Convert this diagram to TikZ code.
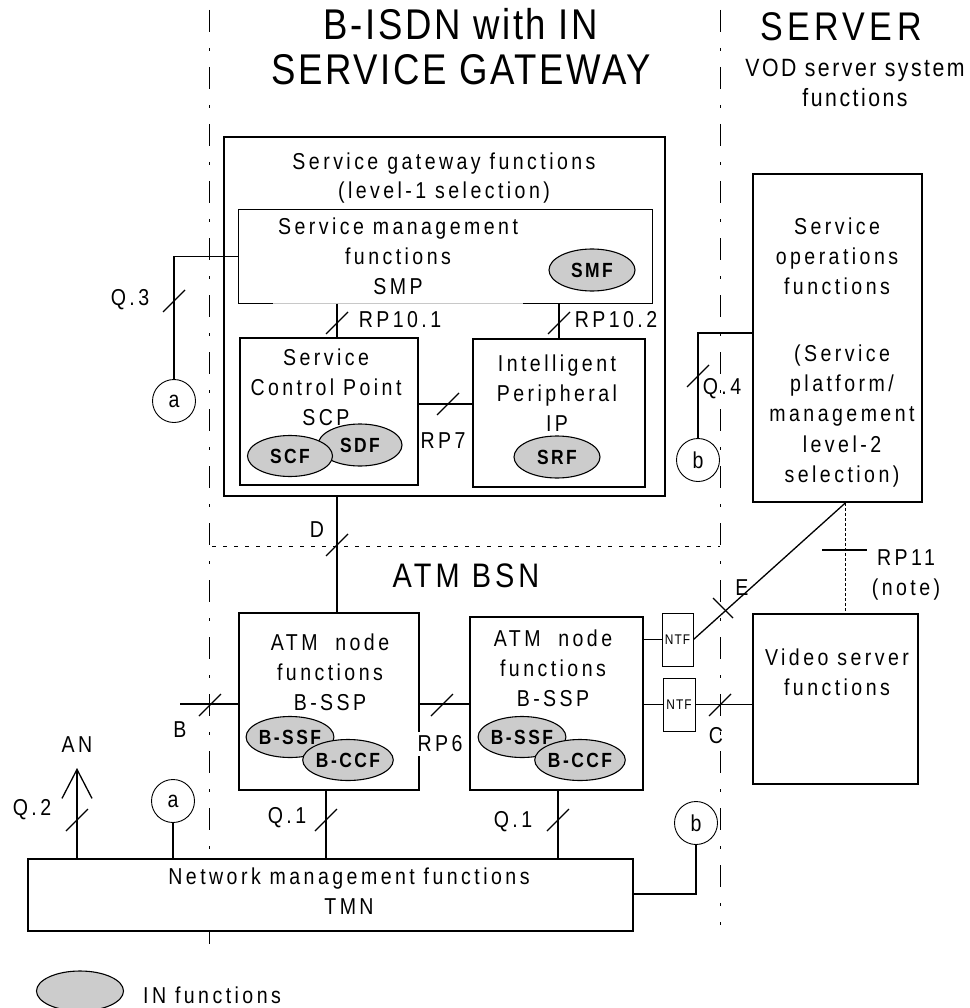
\documentclass[tikz,border=0pt]{standalone}
\usepackage{fontspec}
\setmainfont{Liberation Sans}
\newfontfamily\bodyf{Liberation Sans}[FakeStretch=0.85,LetterSpace=15]
\newfontfamily\titlef{Liberation Sans}[FakeStretch=0.85,LetterSpace=6]
\newfontfamily\serverf{Liberation Sans}[FakeStretch=0.85,LetterSpace=11]
\newfontfamily\vodf{Liberation Sans}[FakeStretch=0.85,LetterSpace=10]
\newfontfamily\bsnf{Liberation Sans}[FakeStretch=0.85,LetterSpace=12]
\newfontfamily\ellf{Liberation Sans Bold}[FakeStretch=0.85,LetterSpace=12]
\newfontfamily\ntff{Liberation Sans}[FakeStretch=0.85,LetterSpace=8]
\usetikzlibrary{shapes.geometric,arrows.meta,calc}
\definecolor{ingray}{RGB}{204,204,204}
\definecolor{artgray}{RGB}{200,200,200}
\newcommand{\tickmark}[2]{\draw[conn] (#1-11,#2+11) -- (#1+11,#2-11);}
\begin{document}
\begin{tikzpicture}[x=1pt,y=-1pt,
  conn/.style={line width=1.3pt},
  thickbox/.style={draw, line width=2.5pt, fill=white, inner sep=0},
  midbox/.style={draw, line width=1.5pt, fill=white, inner sep=0},
  thinbox/.style={draw, line width=1pt, fill=white, inner sep=0},
  txt/.style={font=\bodyf\fontsize{23}{30}\selectfont, align=center, inner sep=0},
  ell/.style={draw, ellipse, fill=ingray, line width=1.1pt, inner sep=0, font=\ellf\fontsize{20.5}{21}\selectfont},
  circ/.style={draw, circle, minimum size=43pt, inner sep=0, line width=0.9pt, fill=white, font=\bodyf\fontsize{23}{30}\selectfont},
  dashdot/.style={line width=0.9pt, dash pattern=on 22pt off 16pt on 3pt off 16pt},
  dotline/.style={line width=0.9pt, dash pattern=on 4pt off 7pt},
  finedots/.style={line width=1pt, dash pattern=on 2.5pt off 2.5pt}
]
\path[use as bounding box] (0,0) rectangle (969,1008);

% separators
\draw[dashdot] (209,10) -- (209,955);
\draw[dashdot] (720,10) -- (720,925);
\draw[dotline] (212,546) -- (720,546);

% titles
\node[font=\titlef\fontsize{43}{46}\selectfont, inner sep=0] (t1) at (461,24) {B-ISDN with IN};
\node[font=\titlef\fontsize{43}{46}\selectfont, inner sep=0] (t2) at (461,70) {SERVICE GATEWAY};
\node[font=\serverf\fontsize{40}{46}\selectfont, inner sep=0] (srv) at (841,27) {SERVER};
\node[font=\vodf\fontsize{25}{30}\selectfont, align=center, inner sep=0] (vod) at (855,83) {VOD server system\\functions};
\node[font=\bsnf\fontsize{34}{40}\selectfont, inner sep=0] (bsn) at (466,576) {ATM BSN};

% boxes
\node[thickbox, minimum width=441pt, minimum height=359pt] (sg) at (444.5,316.5) {};
\node[thinbox, minimum width=414pt, minimum height=93pt] (smp) at (445,256.5) {};
\draw[line width=1pt, artgray] (273,303) -- (523,303);
\node[midbox, minimum width=178pt, minimum height=147pt] (scp) at (329,411.5) {};
\node[midbox, minimum width=172pt, minimum height=148pt] (ip) at (559,413) {};
\node[thickbox, minimum width=169pt, minimum height=328pt] (sop) at (837.5,338) {};
\node[thickbox, minimum width=180pt, minimum height=177pt] (atm1) at (329,701.5) {};
\node[thickbox, minimum width=173pt, minimum height=173pt] (atm2) at (556.5,703.5) {};
\node[thickbox, minimum width=165pt, minimum height=170pt] (vid) at (835.5,699) {};
\node[thickbox, minimum width=605pt, minimum height=72pt] (nm) at (330.5,895) {};
\node[thinbox, minimum width=31pt, minimum height=53pt, font=\ntff\fontsize{14}{16}\selectfont] (ntf1) at (677.5,639.5) {NTF};
\node[thinbox, minimum width=32pt, minimum height=53pt, font=\ntff\fontsize{14}{16}\selectfont] (ntf2) at (679,704.5) {NTF};

% box texts
\node[txt, font=\bodyf\fontsize{23}{28.5}\selectfont] (sgt) at (444,178) {Service gateway functions\\(level-1 selection)};
\node[txt] (smpt) at (398,256) {Service management\\functions\\SMP};
\node[txt] (scpt) at (326,387) {Service\\Control Point\\SCP};
\node[txt] (ipt) at (557,393) {Intelligent\\Peripheral\\IP};
\node[txt] (sopt1) at (837,256) {Service\\operations\\functions};
\node[txt, font=\bodyf\fontsize{23}{30.3}\selectfont] (sopt2) at (842,416) {(Service\\platform/\\management\\level-2\\selection)};
\node[txt] (vidt) at (837,672) {Video server\\functions};
\node[txt] (atm1t) at (330,672) {ATM~ node\\functions\\B-SSP};
\node[txt] (atm2t) at (553,668) {ATM~ node\\functions\\B-SSP};
\node[txt] (nmt) at (349,891) {Network management functions\\TMN};

% IN function ellipses
\node[ell, minimum width=86pt, minimum height=42pt] (smf) at (592,270) {SMF};
\node[ell, minimum width=84pt, minimum height=42pt] (sdf) at (360,445) {SDF};
\node[ell, minimum width=85pt, minimum height=41pt] (scf) at (290,456) {SCF};
\node[ell, minimum width=86pt, minimum height=42pt] (srf) at (557,457) {SRF};
\node[ell, minimum width=85pt, minimum height=41pt] (bssf1) at (290,737) {B-SSF};
\node[ell, minimum width=85pt, minimum height=41pt] (bccf1) at (348,760) {B-CCF};
\node[ell, minimum width=86pt, minimum height=41pt] (bssf2) at (522,737) {B-SSF};
\node[ell, minimum width=86pt, minimum height=41pt] (bccf2) at (580,760) {B-CCF};

% circles
\node[circ] (a1) at (174,401) {a};
\node[circ] (b1) at (698,460) {b};
\node[circ] (a2) at (173,801) {a};
\node[circ] (b2) at (696,823) {b};

% helper coordinates
\coordinate (x337) at (337,0);
\coordinate (x559) at (559,0);
\coordinate (x326) at (326,0);
\coordinate (x558) at (558,0);
\coordinate (x845) at (845,0);
\coordinate (y404) at (0,404);
\coordinate (y704) at (0,704);
\coordinate (y894) at (0,894);
\coordinate (q4s) at (753,333);
\coordinate (bend) at (180,704);
\coordinate (anb) at (77,859);
\coordinate (antip) at (77,768);

% connectors
\draw[conn] (smp.west) -| (a1);
\draw[conn] (q4s) -| (b1);
\draw[conn] (smp.south -| x337) -- (scp.north -| x337);
\draw[conn] (smp.south -| x559) -- (ip.north -| x559);
\draw[conn] (scp.east |- y404) -- (ip.west |- y404);
\draw[conn] (sg.south -| x337) -- (atm1.north -| x337);
\draw[conn] (bend) -- (atm1.west |- bend);
\draw[conn] (atm1.east |- y704) -- (atm2.west |- y704);
\draw[conn] (atm2.east |- ntf1.west) -- (ntf1.west);
\draw[conn] (atm2.east |- ntf2.west) -- (ntf2.west);
\draw[conn] (ntf2.east) -- (vid.west |- ntf2.east);
\draw[conn] (ntf1.east) -- (sop.south -| x845);
\draw[finedots] (sop.south -| x845) -- (vid.north -| x845);
\draw[conn] (atm1.south -| x326) -- (nm.north -| x326);
\draw[conn] (atm2.south -| x558) -- (nm.north -| x558);
\draw[conn] (a2) -- (nm.north -| a2);
\draw[conn] (b2) |- (nm.east |- y894);
\draw[conn, -{Straight Barb[length=29pt,width=30pt]}] (anb) -- (antip);

% interface ticks
\tickmark{174}{301}
\tickmark{337}{323}
\tickmark{559}{323}
\tickmark{448}{404}
\tickmark{698}{376}
\tickmark{337}{545}
\tickmark{210}{705}
\tickmark{442}{705}
\tickmark{720}{705}
\tickmark{77}{820}
\tickmark{326}{820}
\tickmark{558}{820}
\draw[conn] (713,598) -- (733,618);
\draw[conn] (822,550) -- (867,550);

% interface labels
\node[txt] (lq3) at (130,300) {Q.3};
\node[txt] (lrp101) at (400,320) {RP10.1};
\node[txt] (lrp102) at (616,320) {RP10.2};
\node[txt] (lrp7) at (443,441) {RP7};
\node[txt] (lq4) at (722,389) {Q.4};
\node[txt] (ld) at (317,530) {D};
\node[txt] (lb) at (180,730) {B};
\node[txt, fill=white, inner ysep=4pt] (lrp6) at (440,744) {RP6};
\node[txt] (lc) at (716,736) {C};
\node[txt] (le) at (742,588) {E};
\node[txt] (lrp11) at (906,575) {RP11\\(note)};
\node[txt] (lan) at (77,745) {AN};
\node[txt] (lq2) at (32,810) {Q.2};
\node[txt] (lq1a) at (287,818) {Q.1};
\node[txt] (lq1b) at (513,822) {Q.1};

% legend
\node[ell, minimum width=87pt, minimum height=40pt] (leg) at (80,991) {};
\node[txt] (legt) at (212,995) {IN functions};
\end{tikzpicture}
\end{document}
